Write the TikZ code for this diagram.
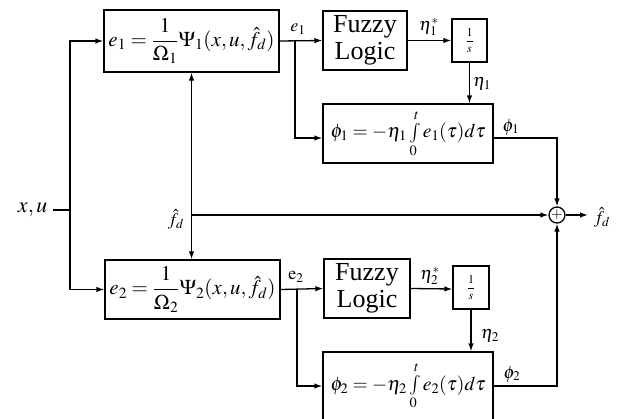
\documentclass[tikz,border=0pt]{standalone}
\usepackage{amsmath}
\usepackage{mathptmx}
\usepackage{fontspec}
\setmainfont{Liberation Serif}
\usetikzlibrary{arrows.meta,calc}
\begin{document}
\begin{tikzpicture}[x=1pt,y=-1pt, line width=1.3pt,
  >={Latex[length=8pt,width=5.5pt]},
  blk/.style={draw, line width=1.3pt, inner sep=0pt, anchor=center},
  eqf/.style={font=\fontsize{21}{21}\selectfont},
  phf/.style={font=\fontsize{19.5}{19.5}\selectfont},
  lbl/.style={font=\fontsize{18}{18}\selectfont, inner sep=0pt}]
\useasboundingbox (0,0) rectangle (618,418);
% blocks
\node[blk, eqf, minimum width=175pt, minimum height=62pt] (b1) at (191.5,41)
  {$e_1=\dfrac{1}{\Omega_1}\Psi_1(x,u,\hat{f}_d)$};
\node[blk, eqf, minimum width=175pt, minimum height=59pt] (b2) at (192.5,289.5)
  {$e_2=\dfrac{1}{\Omega_2}\Psi_2(x,u,\hat{f}_d)$};
\node[blk, minimum width=84pt, minimum height=59pt, align=center,
  font=\fontsize{26}{27}\selectfont] (f1) at (365,40.5) {Fuzzy\\Logic};
\node[blk, minimum width=86pt, minimum height=59pt, align=center,
  font=\fontsize{26}{27}\selectfont] (f2) at (367,288.5) {Fuzzy\\Logic};
\node[blk, minimum width=35pt, minimum height=43pt, font=\fontsize{12}{12}\selectfont] (s1) at (469.5,40.5) {$\dfrac{1}{s}$};
\node[blk, minimum width=36pt, minimum height=43pt, font=\fontsize{12}{12}\selectfont] (s2) at (471,287.5) {$\dfrac{1}{s}$};
\node[blk, phf, minimum width=170pt, minimum height=59pt] (p1) at (408,133.5)
  {$\phi_1=-\eta_1\int\limits_0^t e_1(\tau)d\tau$};
\node[blk, phf, minimum width=170pt, minimum height=68pt] (p2) at (408,386)
  {$\phi_2=-\eta_2\int\limits_0^t e_2(\tau)d\tau$};
\node[draw, circle, minimum size=16pt, inner sep=0pt, line width=1.3pt,
  font=\fontsize{15}{15}\selectfont] (sum) at (557,215) {$+$};
% inputs
\node[font=\fontsize{22}{22}\selectfont, inner sep=0pt, anchor=east] (xu) at (48,210) {$x,u$};
\coordinate (j) at (70,210);
\draw (xu.east) ++(5,0) -- (j);
\draw[->] (j) |- (b1.west);
\draw[->] (j) |- (b2.west);
% fd
\draw[<->] (b1.south) -- (b1.south |- b2.north);
\draw[->] (b1.south |- sum.west) -- (sum.west);
\node[lbl] (fdl) at (176,219) {$\hat{f}_d$};
% upper channel
\coordinate (br1) at (295,41);
\draw[->] (b1.east) -- (f1.west);
\draw[->] (br1) |- ([yshift=-4.5pt]p1.west);
\node[lbl] (e1l) at (298,29) {$e_1$};
\draw[->] (f1.east) -- (s1.west);
\node[lbl] (n1s) at (429,27) {$\eta_1^*$};
\draw[->] (s1.south) -- (s1.south |- p1.north);
\node[lbl] (n1) at (482,84) {$\eta_1$};
\draw[->] ([yshift=-4.5pt]p1.east) -| (sum.north);
\node[lbl] (ph1) at (511,127) {$\phi_1$};
% lower channel
\coordinate (br2) at (297,289);
\draw[->] (b2.east) -- (f2.west);
\draw[->] (br2) |- (p2.west);
\node[lbl] (e2l) at (296,277) {$\mathrm{e}_2$};
\draw[->] (f2.east) -- ([yshift=-1.5pt]s2.west);
\node[lbl] (n2s) at (430,276) {$\eta_2^*$};
\draw[->] (s2.south) -- (s2.south |- p2.north);
\node[lbl] (n2) at (490,336) {$\eta_2$};
\draw[->] (p2.east) -| (sum.south);
\node[lbl] (ph2) at (512,374) {$\phi_2$};
% output
\coordinate (out) at (588,215);
\draw[->] (sum.east) -- (out);
\node[lbl] (fdo) at (602,217) {$\hat{f}_d$};
\end{tikzpicture}
\end{document}
